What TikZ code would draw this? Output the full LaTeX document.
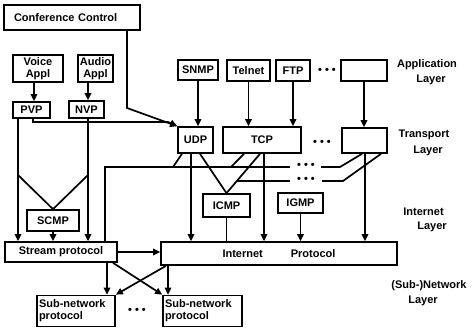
\documentclass[tikz,border=0pt]{standalone}
\usepackage{fontspec}
\setmainfont{Liberation Sans}
\usetikzlibrary{arrows.meta}
\tikzset{
  txt/.style={font=\bfseries\fontsize{11}{12}\selectfont},
  box/.style={txt, draw, line width=1.7pt, inner sep=0pt, align=center},
  wire/.style={line width=1.7pt},
  arr/.style={wire, -{Triangle[length=7pt,width=6.5pt]}},
  lbl/.style={txt, inner sep=0pt},
  dots/.style={txt, inner sep=0pt},
}
\begin{document}
\begin{tikzpicture}[x=1pt,y=-1pt]
\useasboundingbox (0,0) rectangle (472,328);

% ---- boxes ----
\node[box, text width=116pt, inner xsep=10pt, minimum height=25pt, align=left] (cc) at (72,17.5) {Conference Control};
\node[box, minimum width=50pt, minimum height=27pt] (voice) at (38,68.5) {Voice\\Appl};
\node[box, minimum width=35pt, minimum height=27pt] (audio) at (95.5,68.5) {Audio\\Appl};
\node[box, minimum width=37pt, minimum height=16pt] (pvp) at (31.5,110) {PVP};
\node[box, minimum width=35pt, minimum height=17pt] (nvp) at (86.5,109.5) {NVP};

\node[box, minimum width=40pt, minimum height=20pt] (snmp) at (198,70) {SNMP};
\node[box, minimum width=43pt, minimum height=21pt] (telnet) at (248.5,70.5) {Telnet};
\node[box, minimum width=34pt, minimum height=21pt] (ftp) at (293,70.5) {FTP};
\node[box, minimum width=46pt, minimum height=21pt] (appx) at (364,70.5) {};
\node[dots] (dapp) at (327,71) {\textbullet\ \textbullet\ \textbullet};

\node[box, minimum width=35pt, minimum height=26pt] (udp) at (195.5,140) {UDP};
\node[box, minimum width=78pt, minimum height=26pt] (tcp) at (262,140) {TCP};
\node[box, minimum width=45pt, minimum height=25pt] (trx) at (364.5,140.5) {};
\node[dots] (dtr) at (322,143) {\textbullet\ \textbullet\ \textbullet};

\node[box, minimum width=47pt, minimum height=23pt] (icmp) at (226.5,205.5) {ICMP};
\node[box, minimum width=45pt, minimum height=20pt] (igmp) at (300.5,203) {IGMP};
\node[box, minimum width=52pt, minimum height=21pt] (scmp) at (53,220.5) {SCMP};

\node[box, minimum width=112pt, minimum height=20pt] (stream) at (61,252) {Stream protocol};
\node[box, minimum width=236pt, minimum height=23pt] (ip) at (279,253.5) {Internet\hspace{28pt}Protocol};

\node[box, text width=74pt, inner xsep=2pt, minimum height=31pt, align=left] (sub1) at (76,311) {Sub-network\\protocol};
\node[box, text width=75pt, inner xsep=2pt, minimum height=31pt, align=left] (sub2) at (202.5,311) {Sub-network\\protocol};
\node[dots] (dsub) at (137,311) {\textbullet\ \textbullet\ \textbullet};

% ---- layer labels ----
\node[lbl] (lapp) at (427,65) {Application};
\node[lbl] (lapp2) at (431,80) {Layer};
\node[lbl] (ltr) at (424,135) {Transport};
\node[lbl] (ltr2) at (428,151) {Layer};
\node[lbl] (lin) at (423.5,212) {Internet};
\node[lbl] (lin2) at (432,227) {Layer};
\node[lbl] (lnet) at (429,286) {(Sub-)Network};
\node[lbl] (lnet2) at (423,301) {Layer};

% ---- conference control and PVP into UDP ----
\coordinate (ccb) at (127,108);
\draw[arr] (cc.south -| ccb) -- (ccb) -- (udp.north west);
\coordinate (pvb) at (33,122);
\coordinate (pve) at (168,122);
\draw[arr] (pvp.south -| pvb) -- (pvb) -- (pve) -- (udp.north west);

% ---- applications down to their transports ----
\draw[arr] (voice.south -| 34,0) -- (pvp.north -| 34,0);
\draw[arr] (audio.south -| 88,0) -- (nvp.north -| 88,0);
\draw[arr] (snmp.south) -- (udp.north -| snmp.south);
\draw[arr] (telnet.south) -- (tcp.north -| telnet.south);
\draw[arr] (ftp.south) -- (tcp.north -| ftp.south);
\draw[arr] (appx.south) -- (trx.north -| appx.south);

% ---- shared line from the stream protocol to the transports ----
\coordinate (la0) at (105,167);
\coordinate (la1) at (290,167);
\coordinate (la2) at (321,167);
\coordinate (la3) at (340,167);
\coordinate (ja1) at (173,167);
\coordinate (ja2) at (231,167);
\draw[wire] (stream.north -| la0) -- (la0) -- (la1);
\draw[wire] (la2) -- (la3) -- (trx.south -| 362,0);
\node[dots] (dla) at (306,166) {\textbullet\ \textbullet\ \textbullet};
\draw[wire] (udp.south -| 182,0) -- (ja1);
\draw[wire] (tcp.south -| 244,0) -- (ja2);

% ---- ICMP branches ----
\draw[wire] (udp.south -| 200,0) -- (icmp.north);
\draw[wire] (tcp.south -| 260,0) -- (icmp.north);
\coordinate (lb0) at (237,181);
\coordinate (lb1) at (290,181);
\coordinate (lb2) at (322,181);
\coordinate (lb3) at (343,181);
\draw[wire] (lb0) -- (lb1);
\draw[wire] (lb2) -- (lb3) -- (trx.south -| 381,0);
\node[dots] (dlb) at (306,180) {\textbullet\ \textbullet\ \textbullet};

% ---- transports down to the internet protocol ----
\draw[arr] (udp.south -| 191,0) -- (ip.north -| 191,0);
\draw[arr] (tcp.south -| 264,0) -- (ip.north -| 264,0);
\draw[arr] (trx.south -| 365,0) -- (ip.north -| 365,0);
\draw[wire] (icmp.south) -- (ip.north -| icmp.south);
\draw[arr] (igmp.south) -- (ip.north -| igmp.south);

% ---- PVP / NVP / SCMP into the stream protocol ----
\draw[arr] (pvp.south -| 18,0) -- (stream.north -| 18,0);
\draw[arr] (nvp.south -| 88,0) -- (stream.north -| 88,0);
\coordinate (vl) at (18,175);
\coordinate (vr) at (88,175);
\draw[wire] (vl) -- (scmp.north);
\draw[wire] (vr) -- (scmp.north);
\draw[arr] (scmp.south) -- (stream.north -| scmp.south);
\draw[arr] (stream.east) -- (ip.west |- stream.east);

% ---- down to the sub-networks ----
\draw[arr] (stream.south -| 107,0) -- (sub1.north -| 107,0);
\draw[arr] (stream.south -| 113,0) -- (sub2.north west);
\draw[arr] (ip.south -| 166,0) -- (sub1.north east);
\draw[arr] (ip.south -| 168,0) -- (sub2.north -| 168,0);
\end{tikzpicture}
\end{document}
